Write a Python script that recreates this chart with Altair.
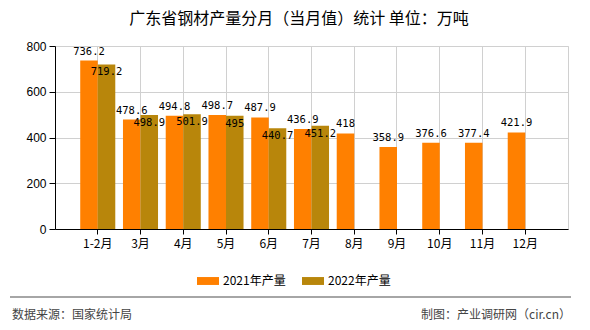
import altair as alt
import pandas as pd

months = ["1-2月", "3月", "4月", "5月", "6月", "7月", "8月", "9月", "10月", "11月", "12月"]
v2021 = [736.2, 478.6, 494.8, 498.7, 487.9, 436.9, 418, 358.9, 376.6, 377.4, 421.9]
v2022 = [719.2, 498.9, 501.9, 495, 440.7, 451.2, None, None, None, None, None]
series_names = ["2021年产量", "2022年产量"]
colors = ["#FF8000", "#B8860B"]

rows = []
for m, a, b in zip(months, v2021, v2022):
    rows.append({"month": m, "series": series_names[0], "value": a, "label": f"{a:g}"})
    if b is not None:
        rows.append({"month": m, "series": series_names[1], "value": b, "label": f"{b:g}"})
df = pd.DataFrame(rows)

W, H = 513, 183
FONT = "Noto Sans CJK SC"

x_enc = alt.X("month:N", sort=months, title=None,
              scale=alt.Scale(paddingInner=0.18, paddingOuter=0.59),
              axis=alt.Axis(labelAngle=0, labelFont=FONT, labelFontSize=12, labelColor="#000",
                            domainColor="#000", tickColor="#000", tickSize=5, labelPadding=4,
                            grid=True, gridColor="#d0d0d0"))
xo_enc = alt.XOffset("series:N", sort=series_names, scale=alt.Scale(paddingInner=0, paddingOuter=0))
y_scale = alt.Scale(domain=[0, 800], nice=False)

bars = alt.Chart(df).mark_bar().encode(
    x=x_enc,
    xOffset=xo_enc,
    y=alt.Y("value:Q", scale=y_scale, title=None,
            axis=alt.Axis(values=[0, 200, 400, 600, 800], labelFont="Liberation Sans", labelFontSize=12,
                          labelColor="#000", domainColor="#000", tickColor="#000", tickSize=6,
                          labelPadding=3, grid=True, gridColor="#d0d0d0")),
    color=alt.Color("series:N", sort=series_names,
                    scale=alt.Scale(domain=series_names, range=colors),
                    legend=alt.Legend(title=None, orient="none", legendX=142, legendY=224,
                                      direction="horizontal", symbolType="M-1,-0.36L1,-0.36L1,0.36L-1,0.36Z",
                                      symbolSize=484, symbolStrokeWidth=0, labelFont=FONT, labelFontSize=12,
                                      labelColor="#000", columnPadding=16, labelOffset=4)),
)

lab21 = alt.Chart(df).transform_filter(alt.datum.series == series_names[0]).mark_text(
    baseline="bottom", dy=-4, font="DejaVu Sans Mono", fontSize=10.5, color="#000"
).encode(x=alt.X("month:N", sort=months), xOffset=xo_enc,
         y=alt.Y("value:Q", scale=y_scale), text="label:N")

lab22 = alt.Chart(df).transform_filter(alt.datum.series == series_names[1]).mark_text(
    baseline="middle", dy=8, font="DejaVu Sans Mono", fontSize=10.5, color="#000"
).encode(x=alt.X("month:N", sort=months), xOffset=xo_enc,
         y=alt.Y("value:Q", scale=y_scale), text="label:N")

one = pd.DataFrame({"k": [0]})
title = alt.Chart(one).mark_text(text="广东省钢材产量分月（当月值）统计 单位：万吨", font=FONT,
                                 fontSize=16, align="center", baseline="middle", color="#000").encode(
    x=alt.value(244), y=alt.value(-27))
foot_l = alt.Chart(one).mark_text(text="数据来源：国家统计局", font=FONT, fontSize=12,
                                  align="left", baseline="middle", color="#444").encode(
    x=alt.value(-43), y=alt.value(269))
foot_r = alt.Chart(one).mark_text(text="制图：产业调研网（cir.cn）", font=FONT, fontSize=12,
                                  align="right", baseline="middle", color="#444").encode(
    x=alt.value(516), y=alt.value(269))
line = alt.Chart(one).mark_rule(color="#888", strokeWidth=1.5).encode(
    x=alt.value(-45), x2=alt.value(516), y=alt.value(251))

chart = alt.layer(bars, lab21, lab22, title, foot_l, foot_r, line).properties(
    width=W, height=H,
    autosize=alt.AutoSizeParams(type="none"),
    padding={"left": 55, "top": 46, "right": 22, "bottom": 101},
    background="white",
).configure_view(stroke="#d0d0d0")

chart.save("out.html", embed_options={"renderer": "svg", "actions": False})
